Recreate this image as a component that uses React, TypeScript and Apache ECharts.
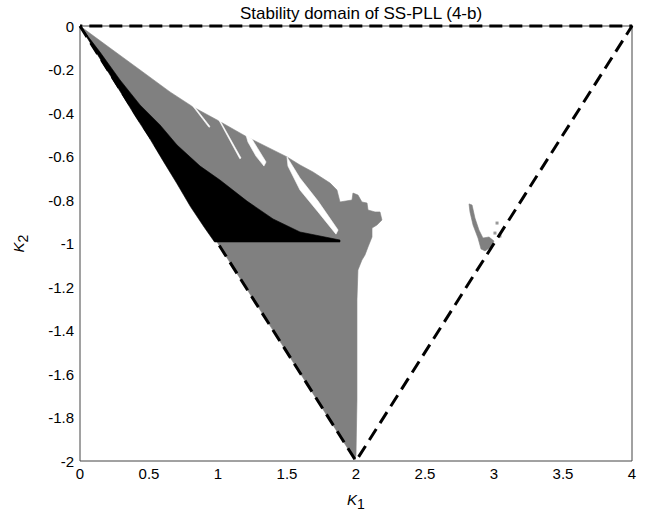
import React, { useEffect, useRef } from "react";
import * as echarts from "echarts";

const TITLE = "Stability domain of SS-PLL (4-b)";
const X_MIN = 0;
const X_MAX = 4;
const X_STEP = 0.5;
const Y_MIN = -2;
const Y_MAX = 0;
const Y_STEP = 0.2;

// Stable region (grey), outline in (K1, K2)
const grayRegion: [number, number][] = [
  [0, 0], [0.217, -0.101], [0.435, -0.202], [0.652, -0.303], [0.819, -0.372],
  [0.993, -0.432], [1.21, -0.51], [1.355, -0.556], [1.5, -0.602], [1.594, -0.639],
  [1.688, -0.671], [1.812, -0.722], [1.862, -0.754], [1.884, -0.809], [1.971, -0.8],
  [1.978, -0.768], [2.014, -0.777], [2.043, -0.809], [2.08, -0.814], [2.087, -0.846],
  [2.138, -0.855], [2.174, -0.855], [2.188, -0.892], [2.152, -0.915], [2.116, -0.929],
  [2.116, -0.97], [2.087, -1.016], [2.065, -1.053], [2.043, -1.076], [2.014, -1.122],
  [2.007, -1.26], [2.007, -1.72], [2.0, -1.972], [1.993, -1.995], [1.0, -1.0],
];

// Black sub-region
const blackRegion: [number, number][] = [
  [0, 0], [0.145, -0.12], [0.29, -0.248], [0.435, -0.363], [0.58, -0.455],
  [0.703, -0.547], [0.87, -0.644], [1.014, -0.708], [1.21, -0.805], [1.399, -0.887],
  [1.594, -0.947], [1.884, -0.984], [1.884, -0.993], [0.975, -0.993], [0.9, -0.925],
  [0.8, -0.83], [0.7, -0.722], [0.6, -0.618], [0.5, -0.512], [0.4, -0.414],
  [0.3, -0.31], [0.2, -0.207], [0.1, -0.104],
];

// White gaps inside the grey region
const whiteStreakA: [number, number][] = [
  [1.5, -0.602], [1.594, -0.699], [1.725, -0.805], [1.87, -0.938],
  [1.855, -0.957], [1.725, -0.855], [1.594, -0.754], [1.507, -0.644],
];
const whiteStreakB: [number, number][] = [
  [1.203, -0.501], [1.246, -0.52], [1.348, -0.625], [1.333, -0.644],
  [1.275, -0.598], [1.217, -0.533],
];
const whiteStreakC: [number, number][] = [
  [0.783, -0.34], [0.795, -0.343], [0.942, -0.462], [0.935, -0.466],
];
const whiteStreakD: [number, number][] = [
  [1.0, -0.425], [1.009, -0.428], [1.167, -0.607], [1.158, -0.61],
];

// Isolated stable island near K1 = 3
const islandRegion: [number, number][] = [
  [2.819, -0.818], [2.841, -0.823], [2.862, -0.883], [2.891, -0.938], [2.92, -0.975],
  [2.964, -0.97], [3.0, -0.989], [2.978, -1.016], [2.935, -1.034], [2.906, -1.025],
  [2.884, -0.975], [2.848, -0.915], [2.826, -0.855],
];
const islandDots: [number, number][] = [
  [3.022, -0.906], [3.007, -0.952], [3.043, -0.966],
];

// Theoretical boundary triangle (dashed)
const boundaryTriangle: [number, number][] = [
  [0, 0], [2, -2], [4, 0], [0, 0],
];

const FONT = 'Arial, "Liberation Sans", Helvetica, sans-serif';

function polygonSeries(name: string, pts: [number, number][], color: string, z: number) {
  return {
    type: "custom",
    name,
    coordinateSystem: "cartesian2d",
    data: pts,
    encode: { x: 0, y: 1 },
    z,
    silent: true,
    clip: true,
    renderItem: (params: any, api: any) => {
      if (params.dataIndex !== 0) return null;
      return {
        type: "polygon",
        shape: { points: pts.map((p) => api.coord(p)) },
        style: { fill: color, stroke: color, lineWidth: 0.6 },
      };
    },
  };
}

export default function App() {
  const ref = useRef<HTMLDivElement>(null);
  useEffect(() => {
    if (!ref.current) return;
    const chart = echarts.init(ref.current, undefined, { renderer: "svg" });
    chart.setOption({
      animation: false,
      backgroundColor: "#ffffff",
      title: {
        text: TITLE,
        left: 356,
        textAlign: "center",
        top: 0,
        textStyle: { fontFamily: FONT, fontSize: 17, fontWeight: "normal", color: "#000" },
      },
      grid: {
        left: 80,
        right: 23,
        top: 26,
        bottom: 55,
        show: true,
        borderColor: "#444",
        borderWidth: 1,
        backgroundColor: "#fff",
      },
      xAxis: {
        type: "value",
        min: X_MIN,
        max: X_MAX,
        interval: X_STEP,
        splitLine: { show: false },
        axisLine: { show: false },
        axisTick: { show: false },
        axisLabel: { fontFamily: FONT, fontSize: 15, color: "#000", margin: 5 },
        name: "{k|K}{s|1}",
        nameLocation: "middle",
        nameGap: 26,
        nameTextStyle: {
          rich: {
            k: { fontFamily: FONT, fontSize: 15, fontStyle: "italic", color: "#000" },
            s: { fontFamily: FONT, fontSize: 14, color: "#000", padding: [10, 0, 0, 0] },
          },
        },
      },
      yAxis: {
        type: "value",
        min: Y_MIN,
        max: Y_MAX,
        interval: Y_STEP,
        splitLine: { show: false },
        axisLine: { show: false },
        axisTick: { show: false },
        axisLabel: { fontFamily: FONT, fontSize: 15, color: "#000", margin: 6 },
        name: "{k|K}{s|2}",
        nameLocation: "middle",
        nameGap: 50,
        nameRotate: 90,
        nameTextStyle: {
          rich: {
            k: { fontFamily: FONT, fontSize: 15, fontStyle: "italic", color: "#000" },
            s: { fontFamily: FONT, fontSize: 14, color: "#000", padding: [10, 0, 0, 0] },
          },
        },
      },
      series: [
        polygonSeries("stable", grayRegion, "#808080", 2),
        polygonSeries("black", blackRegion, "#000000", 3),
        polygonSeries("gapA", whiteStreakA, "#ffffff", 4),
        polygonSeries("gapB", whiteStreakB, "#ffffff", 4),
        polygonSeries("gapC", whiteStreakC, "#ffffff", 4),
        polygonSeries("gapD", whiteStreakD, "#ffffff", 4),
        polygonSeries("island", islandRegion, "#808080", 2),
        {
          type: "scatter",
          name: "islandDots",
          data: islandDots,
          symbol: "rect",
          symbolSize: 3,
          itemStyle: { color: "#808080" },
          silent: true,
          z: 2,
        },
        {
          type: "line",
          name: "boundary",
          data: boundaryTriangle,
          symbol: "none",
          clip: false,
          silent: true,
          z: 6,
          lineStyle: { color: "#000", width: 3, type: [13, 7] },
        },
      ],
    });
    return () => chart.dispose();
  }, []);
  return (
    <div
      ref={ref}
      style={{ position: "fixed", left: 0, top: 0, width: 655, height: 516 }}
    />
  );
}
